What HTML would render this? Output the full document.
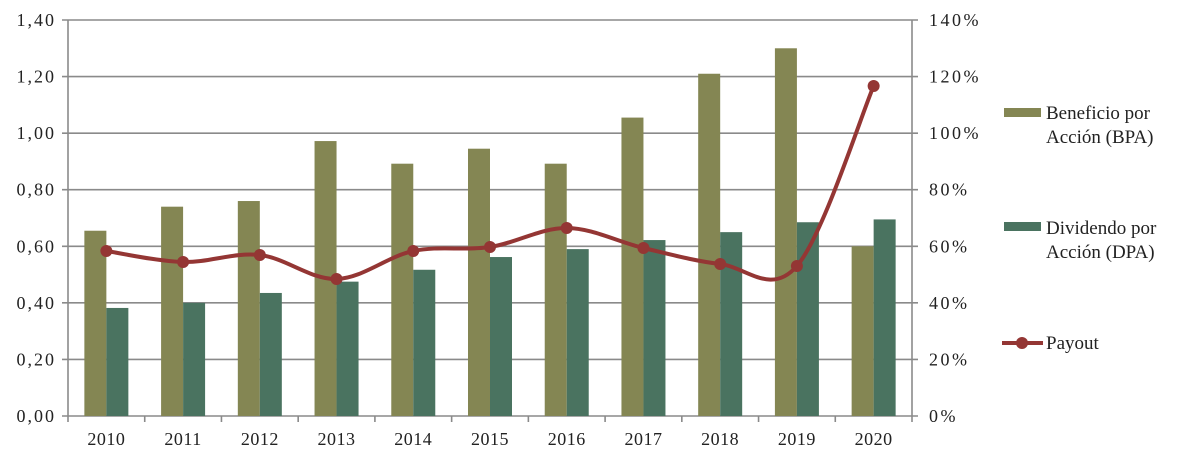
<!DOCTYPE html>
<html><head><meta charset="utf-8"><style>
html,body{margin:0;padding:0;background:#fff;}
svg text{font-family:"Liberation Serif",serif;fill:#222;}
</style></head><body>
<svg id="s" width="1191" height="456" xmlns="http://www.w3.org/2000/svg"></svg>
<script>
var s=document.getElementById('s'),h='';
var L=68,R=912,T=20,B=416,cw=(R-L)/11;
function y(v){return B-(B-T)*v/1.4;}
for(var i=0;i<=7;i++){var yy=B-(B-T)*i/7;
 h+='<line x1="62" x2="918" y1="'+yy+'" y2="'+yy+'" stroke="#8a8a8a" stroke-width="1.6"/>';
 h+='<text x="56" y="'+(yy+6)+'" font-size="18" letter-spacing="2" text-anchor="end">'+(i*0.2).toFixed(2).replace('.',',')+'</text>';
 h+='<text x="929" y="'+(yy+6)+'" font-size="18" letter-spacing="2.5">'+(i*20)+'%</text>';}
var bpa=[0.655,0.74,0.76,0.972,0.892,0.945,0.892,1.055,1.21,1.30,0.60];
var dpa=[0.382,0.40,0.435,0.475,0.517,0.562,0.59,0.622,0.65,0.685,0.695];
for(var i=0;i<11;i++){var c=L+cw*(i+0.5);
 h+='<rect x="'+(c-22)+'" y="'+y(bpa[i])+'" width="22" height="'+(B-y(bpa[i]))+'" fill="#848653"/>';
 h+='<rect x="'+c+'" y="'+y(dpa[i])+'" width="22" height="'+(B-y(dpa[i]))+'" fill="#4a7360"/>';
 h+='<text x="'+c+'" y="445" font-size="18" letter-spacing="0.5" text-anchor="middle">'+(2010+i)+'</text>';
}
for(var i=0;i<=11;i++){var x=L+cw*i;h+='<line x1="'+x+'" x2="'+x+'" y1="'+B+'" y2="'+(B+6)+'" stroke="#8a8a8a" stroke-width="1.6"/>';}
h+='<line x1="'+L+'" x2="'+L+'" y1="'+T+'" y2="'+B+'" stroke="#8a8a8a" stroke-width="1.6"/>';
h+='<line x1="'+R+'" x2="'+R+'" y1="'+T+'" y2="'+B+'" stroke="#8a8a8a" stroke-width="1.6"/>';
var py=[251,262,255,279,251,247,228,248,264,266,86],p=[];
for(var i=0;i<11;i++)p.push([L+cw*(i+0.5),py[i]]);
var d='M'+p[0][0]+','+p[0][1],t=0.17;
for(var i=0;i<10;i++){var a=p[i-1]||p[i],b=p[i],c=p[i+1],e=p[i+2]||c;
 d+=' C'+(b[0]+(c[0]-a[0])*t)+','+(b[1]+(c[1]-a[1])*t)+' '+(c[0]-(e[0]-b[0])*t)+','+(c[1]-(e[1]-b[1])*t)+' '+c[0]+','+c[1];}
h+='<path d="'+d+'" fill="none" stroke="#943634" stroke-width="4"/>';
p.forEach(function(q){h+='<circle cx="'+q[0]+'" cy="'+q[1]+'" r="6" fill="#943634"/>';});
h+='<rect x="1004" y="108" width="37" height="9" fill="#848653"/>';
h+='<text x="1046" y="119" font-size="19">Beneficio por</text><text x="1046" y="143" font-size="19">Acción (BPA)</text>';
h+='<rect x="1004" y="222" width="37" height="9" fill="#4a7360"/>';
h+='<text x="1046" y="234" font-size="19">Dividendo por</text><text x="1046" y="258" font-size="19">Acción (DPA)</text>';
h+='<line x1="1002" x2="1043" y1="343" y2="343" stroke="#943634" stroke-width="4"/><circle cx="1022" cy="343" r="6" fill="#943634"/>';
h+='<text x="1046" y="349" font-size="19">Payout</text>';
s.innerHTML=h;
</script>
</body></html>
